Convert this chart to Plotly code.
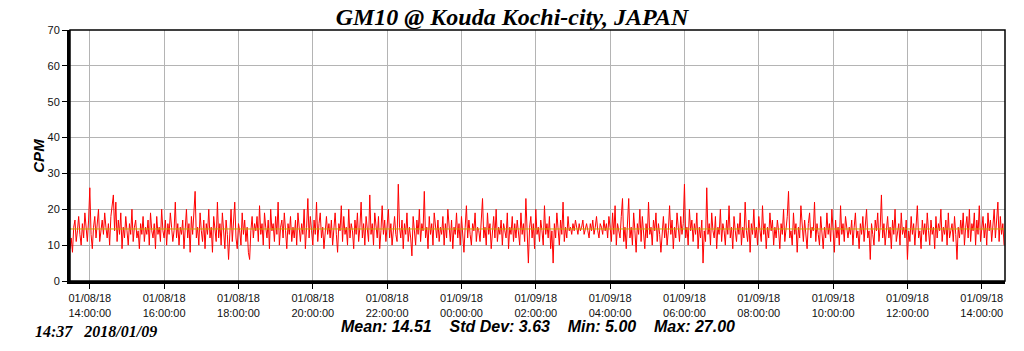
import pandas as pd
import plotly.graph_objects as go

# ---- data (CPM, one reading every 2 minutes starting 2018-01-08 13:28) ----
start_time = "2018-01-08 13:28"
interval = "2min"
cpm = [
    9, 12, 8, 15, 17, 11, 14, 18, 13, 10, 16, 12, 19, 14, 11, 17, 26, 13, 9, 15, 18, 12, 16, 20, 11, 14, 17, 13, 19, 15,
    12, 16, 10, 18, 21, 24, 14, 22, 11, 17, 13, 19, 9, 15, 12, 18, 14, 10, 16, 13, 20, 11, 15, 17, 12, 14, 9, 16, 13, 18,
    11, 15, 13, 17, 10, 19, 14, 12, 16, 9, 18, 13, 15, 11, 20, 14, 12, 17, 10, 16, 13, 19, 15, 11, 14, 22, 12, 16, 10, 15,
    13, 17, 9, 14, 20, 12, 16, 8, 18, 13, 21, 25, 12, 15, 10, 19, 14, 11, 17, 9, 16, 13, 20, 12, 15, 8, 18, 14, 11, 22,
    12, 16, 10, 19, 14, 9, 17, 13, 6, 15, 20, 11, 18, 22, 12, 9, 16, 14, 10, 19, 13, 17, 11, 15, 8, 6, 14, 18, 12, 16,
    14, 18, 11, 21, 13, 16, 10, 19, 15, 12, 17, 9, 20, 14, 16, 11, 18, 13, 22, 10, 15, 17, 12, 19, 14, 9, 16, 13, 18, 11,
    15, 12, 17, 10, 19, 14, 11, 16, 13, 20, 9, 15, 23, 12, 18, 14, 10, 17, 13, 22, 11, 16, 19, 12, 15, 9, 14, 18, 13, 16,
    12, 17, 10, 15, 19, 13, 8, 16, 14, 21, 11, 18, 13, 15, 10, 20, 12, 16, 14, 9, 17, 13, 19, 11, 15, 22, 12, 16, 10, 18,
    14, 11, 24, 13, 16, 10, 19, 15, 12, 18, 9, 14, 21, 13, 17, 11, 15, 20, 12, 16, 10, 14, 18, 13, 11, 27, 15, 12, 17, 9,
    16, 13, 19, 11, 15, 12, 7, 18, 14, 10, 17, 13, 20, 11, 16, 14, 25, 12, 15, 9, 18, 13, 16, 10, 19, 14, 12, 17, 11, 15,
    13, 18, 10, 16, 12, 20, 14, 11, 17, 9, 15, 13, 19, 12, 16, 10, 18, 14, 8, 15, 21, 12, 17, 13, 10, 16, 14, 19, 11, 15,
    14, 11, 17, 23, 12, 15, 10, 19, 13, 16, 9, 14, 18, 12, 20, 11, 15, 13, 17, 10, 16, 14, 12, 19, 9, 15, 13, 18, 11, 16,
    12, 17, 14, 10, 19, 13, 16, 11, 23, 14, 5, 15, 18, 12, 16, 9, 20, 13, 15, 11, 17, 14, 10, 21, 13, 16, 12, 18, 9, 14,
    5, 16, 12, 19, 14, 10, 17, 13, 22, 11, 15, 12, 18, 14, 15, 13, 16, 14, 17, 15, 13, 16, 14, 15, 17, 13, 15, 16, 14, 12,
    16, 14, 17, 13, 15, 18, 14, 12, 16, 15, 13, 17, 14, 16, 12, 18, 15, 11, 19, 13, 21, 10, 16, 14, 12, 18, 23, 11, 15, 9,
    17, 23, 12, 15, 10, 19, 14, 8, 16, 13, 20, 11, 18, 14, 9, 16, 12, 22, 13, 15, 10, 17, 14, 19, 11, 16, 13, 8, 15, 18,
    12, 16, 10, 14, 21, 13, 17, 9, 15, 12, 19, 14, 11, 18, 13, 16, 27, 12, 15, 10, 20, 14, 17, 11, 16, 13, 19, 9, 15, 12,
    17, 5, 14, 11, 26, 13, 16, 10, 19, 14, 12, 18, 9, 15, 13, 20, 11, 16, 14, 10, 17, 13, 21, 12, 15, 9, 18, 14, 11, 16,
    13, 19, 10, 15, 12, 22, 14, 11, 17, 8, 16, 13, 20, 12, 15, 10, 18, 14, 11, 21, 13, 16, 9, 15, 12, 19, 14, 17, 10, 15,
    12, 17, 14, 9, 16, 13, 20, 11, 15, 18, 25, 12, 14, 10, 19, 13, 16, 8, 15, 12, 21, 14, 11, 17, 13, 9, 16, 19, 12, 15,
    14, 22, 11, 16, 13, 10, 18, 14, 9, 15, 12, 19, 13, 16, 11, 20, 14, 8, 17, 12, 15, 10, 21, 13, 16, 11, 18, 14, 12, 15,
    13, 17, 10, 15, 19, 12, 14, 9, 16, 13, 18, 11, 15, 20, 12, 14, 6, 16, 13, 10, 17, 14, 19, 11, 15, 24, 12, 16, 10, 14,
    18, 12, 15, 9, 17, 13, 20, 11, 14, 16, 10, 19, 13, 15, 12, 17, 6, 14, 11, 18, 13, 16, 10, 15, 21, 12, 14, 9, 17, 13,
    16, 11, 19, 14, 10, 17, 13, 15, 9, 18, 12, 16, 14, 20, 11, 15, 13, 17, 10, 19, 12, 14, 16, 11, 18, 13, 6, 15, 12, 17,
    13, 19, 10, 15, 18, 12, 20, 11, 16, 14, 19, 10, 17, 13, 21, 11, 15, 18, 12, 16, 10, 19, 14, 17, 11, 15, 20, 12, 18, 22,
    11, 18, 13, 16, 10,
]
mean_value = 14.51
stats_text = "Mean: 14.51    Std Dev: 3.63    Min: 5.00    Max: 27.00"
stamp_text = "14:37   2018/01/09"
title_text = "GM10 @ Kouda Kochi-city, JAPAN"
x_range = ["2018-01-08 13:28", "2018-01-09 14:37:30"]
tick_start = "2018-01-08 14:00"
tick_end = "2018-01-09 14:00"
y_ticks = [0, 10, 20, 30, 40, 50, 60, 70]

times = pd.date_range(start_time, periods=len(cpm), freq=interval)
tick_vals = pd.date_range(tick_start, tick_end, freq="2h")
tick_text = [t.strftime("%m/%d/%y<br>%H:%M:%S") for t in tick_vals]

fig = go.Figure()
fig.add_trace(go.Scatter(x=times, y=cpm, mode="lines",
                         line=dict(color="#ff0000", width=1), showlegend=False))
fig.add_trace(go.Scatter(x=[times[0], times[-1]], y=[mean_value, mean_value], mode="lines",
                         line=dict(color="#c8a800", width=1), showlegend=False))

fig.update_layout(
    width=1024, height=351,
    margin=dict(l=70, r=19, t=30, b=70),
    paper_bgcolor="white", plot_bgcolor="white",
    title=dict(text=title_text, x=0.5, xref="container", xanchor="center",
               y=1 - 17 / 351, yref="container", yanchor="middle",
               font=dict(family="Liberation Serif", size=24, color="black",
                         weight="bold", style="italic")),
    xaxis=dict(range=x_range, tickvals=tick_vals, ticktext=tick_text,
               showgrid=True, gridcolor="#b4b4b4", gridwidth=1,
               ticks="outside", ticklen=5, tickcolor="black",
               showline=True, linecolor="black", linewidth=3, mirror=False,
               tickfont=dict(family="Liberation Sans", size=11, color="#111"),
               zeroline=False),
    yaxis=dict(range=[0, 70], tickvals=y_ticks,
               showgrid=True, gridcolor="#b4b4b4", gridwidth=1,
               ticks="outside", ticklen=5, tickcolor="black",
               showline=True, linecolor="black", linewidth=3, mirror=False,
               tickfont=dict(family="Liberation Sans", size=11, color="#111"),
               zeroline=False),
    shapes=[dict(type="rect", xref="paper", yref="paper", x0=0, y0=0, x1=1, y1=1,
                 line=dict(color="black", width=1.5), layer="above")],
    annotations=[
        dict(text="CPM", xref="paper", yref="paper", x=-0.034, y=0.5, textangle=-90,
             showarrow=False, xanchor="center", yanchor="middle",
             font=dict(family="Liberation Sans", size=15, color="black",
                       weight="bold", style="italic")),
        dict(text=stats_text, xref="paper", yref="paper", x=0.5, y=-0.183,
             showarrow=False, xanchor="center", yanchor="middle",
             font=dict(family="Liberation Sans", size=16, color="black",
                       weight="bold", style="italic")),
        dict(text=stamp_text, xref="paper", yref="paper", x=-0.04, y=-0.2,
             showarrow=False, xanchor="left", yanchor="middle",
             font=dict(family="Liberation Serif", size=16, color="black",
                       weight="bold", style="italic")),
    ],
)

fig.write_html("out.html")
